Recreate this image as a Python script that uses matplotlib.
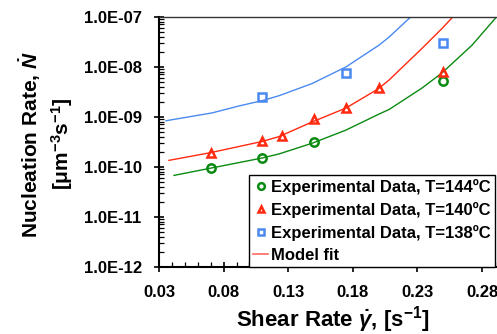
import numpy as np
import matplotlib
matplotlib.use('Agg')
import matplotlib.pyplot as plt
from matplotlib.ticker import FixedLocator, MultipleLocator, LogLocator, FuncFormatter, NullFormatter

plt.rcParams['font.family'] = ['Liberation Sans', 'DejaVu Sans']
plt.rcParams['font.weight'] = 'bold'
plt.rcParams['axes.labelweight'] = 'bold'
plt.rcParams['mathtext.fontset'] = 'custom'
plt.rcParams['mathtext.rm'] = 'Liberation Sans:bold'
plt.rcParams['mathtext.it'] = 'Liberation Sans:italic:bold'
plt.rcParams['mathtext.bf'] = 'Liberation Sans:bold'

# experimental data
x_144 = [0.07, 0.11, 0.15, 0.25]
n_144 = [9.3e-11, 1.48e-10, 3.1e-10, 5.2e-9]

x_140 = [0.07, 0.11, 0.125, 0.15, 0.175, 0.20, 0.25]
n_140 = [1.86e-10, 3.2e-10, 4.1e-10, 8.9e-10, 1.48e-9, 3.7e-9, 7.8e-9]

x_138 = [0.11, 0.175, 0.25]
n_138 = [2.46e-9, 7.6e-9, 3.0e-8]

# model fit curves
fx_144 = [0.0416, 0.0695, 0.1097, 0.1229, 0.1484, 0.1747, 0.2003, 0.2080, 0.2336, 0.2490, 0.2723, 0.2908]
fn_144 = [6.7e-11, 9.3e-11, 1.49e-10, 1.8e-10, 2.94e-10, 5.4e-10, 1.13e-9, 1.39e-9, 3.75e-9, 7.5e-9, 2.7e-8, 9.6e-8]

fx_140 = [0.0377, 0.0695, 0.1097, 0.1229, 0.1484, 0.1747, 0.1995, 0.2080, 0.2336, 0.2490, 0.2576]
fn_140 = [1.34e-10, 1.9e-10, 3.19e-10, 4.0e-10, 7.83e-10, 1.49e-9, 3.58e-9, 5.4e-9, 2.33e-8, 5.8e-8, 1.0e-7]

fx_138 = [0.0354, 0.0710, 0.0919, 0.1097, 0.1229, 0.1484, 0.1747, 0.2003, 0.2080, 0.2250]
fn_138 = [8.3e-10, 1.19e-9, 1.64e-9, 2.09e-9, 2.63e-9, 4.6e-9, 9.9e-9, 2.7e-8, 3.9e-8, 1.0e-7]

xticks = [0.03, 0.08, 0.13, 0.18, 0.23, 0.28]

green = '#0b8a12'
red = '#ff2a10'
blue = '#4a8af0'

fig = plt.figure(figsize=(4.97, 3.34), dpi=100)
ax = fig.add_axes([0.32, 0.2015, 0.68, 0.7485])

ax.plot(fx_144, fn_144, color=green, lw=1.0)
ax.plot(fx_140, fn_140, color=red, lw=1.0)
ax.plot(fx_138, fn_138, color=blue, lw=1.0)

h1, = ax.plot(x_144, n_144, 'o', mfc='none', mec=green, mew=1.8, ms=6, ls='none')
h2, = ax.plot(x_140, n_140, '^', mfc='none', mec=red, mew=1.8, ms=6, ls='none')
h3, = ax.plot(x_138, n_138, 's', mfc='none', mec=blue, mew=1.8, ms=5.5, ls='none')
h4, = ax.plot([], [], color='#ff6a60', lw=1.2)

ax.set_yscale('log')
ax.set_ylim(1e-12, 1e-7)
ax.set_xlim(0.03, 0.2916)

ax.xaxis.set_major_locator(FixedLocator(xticks))
ax.xaxis.set_minor_locator(MultipleLocator(0.01))
ax.xaxis.set_major_formatter(FuncFormatter(lambda v, p: '%.2f' % v))
ax.yaxis.set_major_locator(LogLocator(base=10, numticks=10))
ax.yaxis.set_minor_locator(LogLocator(base=10, subs=np.arange(2, 10), numticks=20))
ax.yaxis.set_minor_formatter(NullFormatter())
ax.yaxis.set_major_formatter(FuncFormatter(lambda v, p: '%.1E' % v))

ax.tick_params(which='major', direction='inout', length=7, width=1.2, labelsize=12)
ax.tick_params(axis='x', which='major', pad=10)
ax.tick_params(axis='y', which='major', pad=9)
ax.tick_params(which='minor', direction='in', length=3.5, width=0.9)
ax.spines['right'].set_visible(False)
for s in ['left', 'bottom']:
    ax.spines[s].set_linewidth(1.5)
ax.spines['top'].set_linewidth(1.0)
ax.spines['top'].set_color('#333333')

ax.set_xlabel(r'Shear Rate $\dot{\gamma}$, [s$^{-1}$]', fontsize=16, fontweight='bold')
ax.xaxis.set_label_coords(0.515, -0.15)
ax.xaxis.label.set_va('top')
ax.set_ylabel('Nucleation Rate, $\\dot{N}$\n[μm$^{-3}$s$^{-1}$]', fontsize=15, fontweight='bold',
              linespacing=1.3)
ax.yaxis.set_label_coords(-0.25, 0.49)

leg = fig.legend([h1, h2, h3, h4],
                 ['Experimental Data, T=144ºC', 'Experimental Data, T=140ºC',
                  'Experimental Data, T=138ºC', 'Model fit'],
                 loc='upper left', bbox_to_anchor=(0.501, 0.476), fontsize=12,
                 frameon=True, fancybox=False, edgecolor='black', framealpha=1,
                 handlelength=0.9, handletextpad=0.2, labelspacing=0.42,
                 borderpad=0.25, borderaxespad=0, markerscale=0.8)
leg.get_frame().set_linewidth(1.0)

fig.savefig('out.png', dpi=100)
